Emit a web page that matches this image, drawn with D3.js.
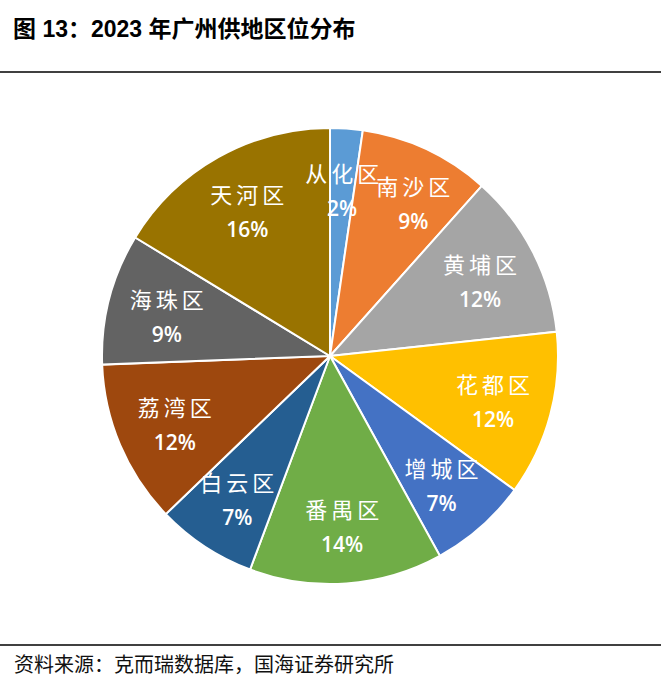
<!DOCTYPE html>
<html>
<head>
<meta charset="utf-8">
<title>2023 年广州供地区位分布</title>
<script src="https://d3js.org/d3.v7.min.js"></script>
<style>
body { margin:0; background:#fff; }
.title { font-family: "Liberation Sans", "Noto Sans CJK SC", sans-serif; font-weight:bold; font-size:23px; fill:#000; }
.src { font-family: "Noto Sans CJK SC", sans-serif; font-size:20px; fill:#111; }
.lbl { font-family: "Noto Sans CJK SC", sans-serif; font-size:22px; letter-spacing:4px; fill:#fff; }
.pct { font-family: "Open Sans", "Liberation Sans", sans-serif; font-size:21px; font-weight:600; fill:#fff; }
</style>
</head>
<body>
<script>
// 区名、份额（按图估计）、标签百分比
var districts = ["从化区", "南沙区", "黄埔区", "花都区", "增城区", "番禺区", "白云区", "荔湾区", "海珠区", "天河区"];
var shares = [2.3, 9.3, 11.7, 11.7, 7.0, 13.7, 7.1, 11.6, 9.3, 16.3];
var pctLabels = ["2%", "9%", "12%", "12%", "7%", "14%", "7%", "12%", "9%", "16%"];
var colors = ["#5B9BD5", "#ED7D31", "#A5A5A5", "#FFC000", "#4472C4", "#70AD47", "#255E91", "#9E480E", "#636363", "#997300"];

var width = 661, height = 697;
var cx = 330, cy = 356, R = 228;

var svg = d3.select("body").append("svg")
    .attr("width", width)
    .attr("height", height);

svg.append("text").attr("class", "title")
    .attr("x", 13).attr("y", 37)
    .text("图 13：2023 年广州供地区位分布");

svg.append("line").attr("x1", 0).attr("x2", width)
    .attr("y1", 72).attr("y2", 72)
    .attr("stroke", "#000").attr("stroke-width", 1.5);

svg.append("line").attr("x1", 0).attr("x2", width)
    .attr("y1", 645).attr("y2", 645)
    .attr("stroke", "#000").attr("stroke-width", 1.5);

svg.append("text").attr("class", "src")
    .attr("x", 14).attr("y", 672)
    .text("资料来源：克而瑞数据库，国海证券研究所");

var pie = d3.pie().sort(null).value(function(d) { return d; });
var arcs = pie(shares);
var arc = d3.arc().innerRadius(0).outerRadius(R);
var labelArc = d3.arc().innerRadius(R * 0.74).outerRadius(R * 0.74);
var color = d3.scaleOrdinal().domain(districts).range(colors);

// 小扇区标签挤在一起，稍微往外推一点
var nudge = { "南沙区": [12, -2] };

var g = svg.append("g").attr("transform", "translate(" + cx + "," + cy + ")");

g.selectAll("path")
    .data(arcs)
    .enter()
    .append("path")
    .attr("d", arc)
    .attr("fill", function(d, i) { return color(districts[i]); })
    .attr("stroke", "#fff")
    .attr("stroke-width", 2);

var lab = g.selectAll("g.lab")
    .data(arcs)
    .enter()
    .append("g")
    .attr("class", "lab")
    .attr("transform", function(d, i) {
        var c = labelArc.centroid(d);
        var n = nudge[districts[i]] || [0, 0];
        return "translate(" + (c[0] + n[0]) + "," + (c[1] + n[1]) + ")";
    });

lab.append("text").attr("class", "lbl")
    .attr("text-anchor", "middle")
    .attr("x", 2)
    .attr("y", -6)
    .text(function(d, i) { return districts[i]; });

lab.append("text").attr("class", "pct")
    .attr("text-anchor", "middle")
    .attr("y", 28)
    .text(function(d, i) { return pctLabels[i]; });
</script>
</body>
</html>
